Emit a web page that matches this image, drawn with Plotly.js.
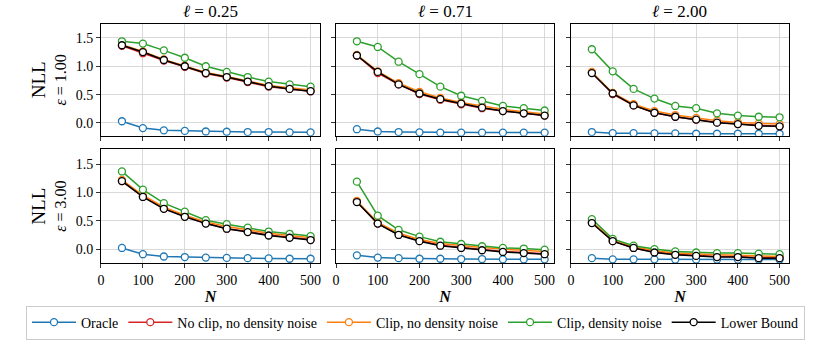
<!DOCTYPE html>
<html>
<head>
<meta charset="utf-8">
<script src="https://cdn.plot.ly/plotly-3.0.1.min.js"></script>
<style>
  html, body { margin: 0; padding: 0; background: #fff; }
  #plot-div { width: 831px; height: 344px; }
</style>
</head>
<body>
<div id="plot-div"></div>
<script>
// sample sizes on the x axis
const N = [50, 100, 150, 200, 250, 300, 350, 400, 450, 500];

// panel order: (eps=1, l=0.25), (eps=1, l=0.71), (eps=1, l=2.00),
//              (eps=3, l=0.25), (eps=3, l=0.71), (eps=3, l=2.00)
const colTitles = ['0.25', '0.71', '2.00'];
const rowEps = ['1.00', '3.00'];

const oracle = [
  [0.03, -0.09, -0.13, -0.14, -0.15, -0.155, -0.16, -0.16, -0.165, -0.165],
  [-0.11, -0.15, -0.16, -0.165, -0.17, -0.17, -0.17, -0.17, -0.17, -0.17],
  [-0.16, -0.18, -0.18, -0.185, -0.185, -0.19, -0.19, -0.19, -0.19, -0.19],
  [0.02, -0.09, -0.13, -0.14, -0.15, -0.155, -0.16, -0.165, -0.17, -0.17],
  [-0.11, -0.15, -0.16, -0.17, -0.17, -0.175, -0.175, -0.18, -0.18, -0.18],
  [-0.16, -0.18, -0.18, -0.18, -0.185, -0.185, -0.185, -0.185, -0.185, -0.185],
];
const noClipNoNoise = [
  [1.36, 1.23, 1.10, 0.99, 0.87, 0.80, 0.72, 0.64, 0.60, 0.56],
  [1.19, 0.88, 0.68, 0.51, 0.41, 0.33, 0.26, 0.21, 0.17, 0.13],
  [0.89, 0.51, 0.31, 0.18, 0.11, 0.06, 0.01, -0.02, -0.04, -0.06],
  [1.20, 0.93, 0.72, 0.58, 0.46, 0.36, 0.31, 0.25, 0.21, 0.17],
  [0.84, 0.45, 0.26, 0.15, 0.07, 0.03, -0.01, -0.04, -0.06, -0.08],
  [0.47, 0.14, 0.02, -0.05, -0.09, -0.11, -0.13, -0.13, -0.15, -0.15],
];
const clipNoNoise = [
  [1.38, 1.26, 1.12, 1.01, 0.89, 0.82, 0.74, 0.66, 0.62, 0.58],
  [1.20, 0.91, 0.70, 0.55, 0.44, 0.36, 0.30, 0.24, 0.20, 0.16],
  [0.90, 0.53, 0.33, 0.21, 0.14, 0.09, 0.04, 0.01, -0.01, -0.02],
  [1.22, 0.95, 0.74, 0.60, 0.48, 0.40, 0.34, 0.28, 0.24, 0.20],
  [0.85, 0.47, 0.28, 0.17, 0.10, 0.06, 0.03, 0.00, -0.02, -0.04],
  [0.48, 0.16, 0.04, -0.03, -0.07, -0.09, -0.10, -0.11, -0.12, -0.13],
];
const clipNoise = [
  [1.44, 1.40, 1.28, 1.15, 1.00, 0.90, 0.81, 0.73, 0.68, 0.64],
  [1.44, 1.34, 1.08, 0.86, 0.64, 0.48, 0.39, 0.30, 0.26, 0.22],
  [1.30, 0.91, 0.60, 0.43, 0.30, 0.26, 0.17, 0.13, 0.11, 0.10],
  [1.37, 1.05, 0.81, 0.66, 0.51, 0.44, 0.38, 0.31, 0.27, 0.23],
  [1.19, 0.59, 0.34, 0.22, 0.13, 0.09, 0.05, 0.02, 0.01, -0.01],
  [0.53, 0.18, 0.06, 0.00, -0.04, -0.06, -0.07, -0.07, -0.08, -0.09],
];
const lowerBound = [
  [1.37, 1.25, 1.11, 1.00, 0.88, 0.81, 0.73, 0.65, 0.60, 0.56],
  [1.19, 0.90, 0.68, 0.52, 0.42, 0.34, 0.27, 0.21, 0.17, 0.13],
  [0.88, 0.52, 0.31, 0.18, 0.11, 0.06, 0.005, -0.02, -0.05, -0.06],
  [1.20, 0.92, 0.71, 0.57, 0.45, 0.36, 0.30, 0.24, 0.20, 0.16],
  [0.83, 0.45, 0.25, 0.14, 0.06, 0.02, -0.02, -0.05, -0.07, -0.09],
  [0.46, 0.14, 0.02, -0.06, -0.10, -0.12, -0.14, -0.14, -0.16, -0.16],
];

const series = [
  { name: 'Oracle', data: oracle, color: '#1f77b4' },
  { name: 'No clip, no density noise', data: noClipNoNoise, color: '#d62728' },
  { name: 'Clip, no density noise', data: clipNoNoise, color: '#ff7f0e' },
  { name: 'Clip, density noise', data: clipNoise, color: '#2ca02c' },
  { name: 'Lower Bound', data: lowerBound, color: '#000000' },
];

const FONT = '"Liberation Serif", "Times New Roman", serif';
// plot area spans the full width (5..826 px) so the legend can be as wide as the figure
const xDomains = [[0.1169, 0.3837], [0.4032, 0.6687], [0.6894, 0.9549]];
const yDomains = [[0.5325, 1], [0, 0.4756]];
const yRanges = [[-0.225, 1.745], [-0.245, 1.76]];

const traces = [];
series.forEach(s => {
  for (let p = 0; p < 6; p++) {
    const suffix = p === 0 ? '' : String(p + 1);
    traces.push({
      x: N, y: s.data[p],
      type: 'scatter', mode: 'lines+markers',
      name: s.name,
      legendgroup: s.name,
      showlegend: p === 0,
      xaxis: 'x' + suffix, yaxis: 'y' + suffix,
      line: { color: s.color, width: 1.5 },
      marker: { symbol: 'circle', size: 7, color: '#ffffff', line: { color: s.color, width: 1.3 } },
    });
  }
});

const layout = {
  width: 831, height: 344,
  margin: { l: 5, r: 5, t: 24, b: 74 },
  paper_bgcolor: '#ffffff',
  plot_bgcolor: 'rgba(0,0,0,0)',
  font: { family: FONT, size: 14, color: '#000' },
  showlegend: true,
  legend: {
    orientation: 'h',
    x: 0.5, xanchor: 'center',
    y: -0.178, yanchor: 'top',
    bordercolor: '#cccccc', borderwidth: 1,
    bgcolor: '#ffffff',
    itemwidth: 44,
    font: { family: FONT, size: 14 },
    traceorder: 'normal',
  },
  annotations: [],
};

for (let p = 0; p < 6; p++) {
  const row = Math.floor(p / 3), col = p % 3;
  const suffix = p === 0 ? '' : String(p + 1);
  layout['xaxis' + suffix] = {
    domain: xDomains[col],
    anchor: 'y' + suffix,
    range: [0, 522.5],
    tickvals: [0, 100, 200, 300, 400, 500],
    showticklabels: row === 1,
    ticks: 'outside', ticklen: 4, tickwidth: 0.8, tickcolor: '#000',
    showline: true, mirror: true, linecolor: '#000', linewidth: 1,
    showgrid: true, gridcolor: '#d0d0d0', gridwidth: 0.8,
    zeroline: false,
    tickfont: { family: FONT, size: 14 },
    title: row === 1 ? { text: '<b><i>N</i></b>', font: { family: FONT, size: 16 }, standoff: 3 } : { text: '' },
  };
  layout['yaxis' + suffix] = {
    domain: yDomains[row],
    anchor: 'x' + suffix,
    range: yRanges[row],
    tickvals: [0, 0.5, 1.0, 1.5],
    ticktext: ['0.0', '0.5', '1.0', '1.5'],
    showticklabels: col === 0,
    ticks: 'outside', ticklen: 4, tickwidth: 0.8, tickcolor: '#000',
    showline: true, mirror: true, linecolor: '#000', linewidth: 1,
    showgrid: true, gridcolor: '#d0d0d0', gridwidth: 0.8,
    zeroline: false,
    tickfont: { family: FONT, size: 14 },
    title: col === 0
      ? { text: '<span style="font-size:19px">NLL</span><br><i>ε</i> = ' + rowEps[row],
          font: { family: FONT, size: 16 }, standoff: 5 }
      : { text: '' },
  };
  if (row === 0) {
    layout.annotations.push({
      text: '<i>ℓ</i> = ' + colTitles[col],
      xref: 'x' + suffix + ' domain', yref: 'paper',
      x: 0.5, y: 1, xanchor: 'center', yanchor: 'bottom', yshift: 1,
      showarrow: false,
      font: { family: FONT, size: 17 },
    });
  }
}

Plotly.newPlot('plot-div', traces, layout, { displayModeBar: false, staticPlot: true });
</script>
</body>
</html>
